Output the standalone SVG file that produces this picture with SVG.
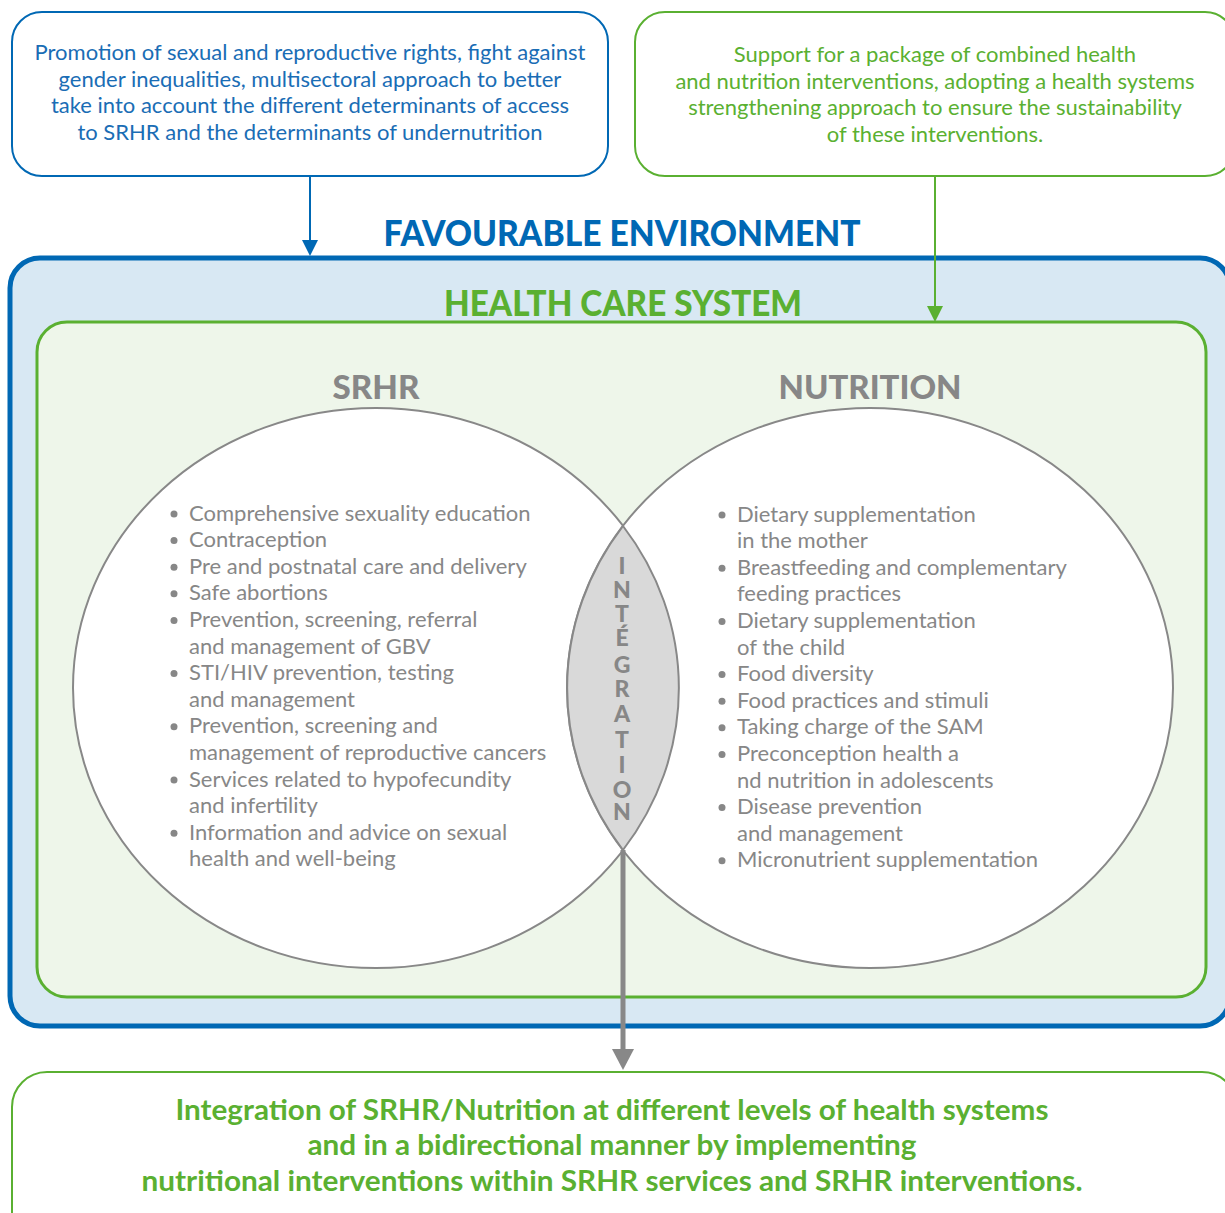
<svg xmlns="http://www.w3.org/2000/svg" width="1225" height="1213" viewBox="0 0 1225 1213">
<style>
.box{fill:#fff;stroke-width:2}
.bt{font-family:Lato,"Liberation Sans",sans-serif;font-size:22px;text-anchor:middle}
.li{font-family:Lato,"Liberation Sans",sans-serif;font-size:22px;fill:#878787}
.hd{font-family:Lato,"Liberation Sans",sans-serif;font-weight:900;text-anchor:middle}
.int{font-family:Lato,"Liberation Sans",sans-serif;font-weight:900;font-size:23px;fill:#878787;text-anchor:middle}
.dot{fill:#878787}
</style>
<rect width="1225" height="1213" fill="#fff"/>
<g id="favourable-environment">
<rect x="10" y="258" width="1220" height="768" rx="30" fill="#d8e8f3" stroke="#0068b4" stroke-width="5"/>
<text class="hd" x="622" y="246" font-size="36" fill="#0068b4" textLength="477" lengthAdjust="spacingAndGlyphs">FAVOURABLE ENVIRONMENT</text>
</g>
<g id="health-care-system">
<rect x="37" y="322" width="1169" height="675" rx="30" fill="#eef6ea" stroke="#5ab031" stroke-width="3"/>
<text class="hd" x="623" y="316" font-size="36" fill="#5ab031" textLength="358" lengthAdjust="spacingAndGlyphs">HEALTH CARE SYSTEM</text>
</g>
<g id="srhr">
<ellipse cx="376" cy="688" rx="303" ry="280" fill="#fff" stroke="#888" stroke-width="2"/>
<text class="hd" x="376" y="399" font-size="33" fill="#878787" textLength="87" lengthAdjust="spacingAndGlyphs">SRHR</text>
<g class="li">
<text x="189" y="520.5">Comprehensive sexuality education</text>
<text x="189" y="547.1">Contraception</text>
<text x="189" y="573.7">Pre and postnatal care and delivery</text>
<text x="189" y="600.3">Safe abortions</text>
<text x="189" y="626.9">Prevention, screening, referral</text>
<text x="189" y="653.5">and management of GBV</text>
<text x="189" y="680.1">STI/HIV prevention, testing</text>
<text x="189" y="706.7">and management</text>
<text x="189" y="733.3">Prevention, screening and</text>
<text x="189" y="759.9">management of reproductive cancers</text>
<text x="189" y="786.5">Services related to hypofecundity</text>
<text x="189" y="813.1">and infertility</text>
<text x="189" y="839.7">Information and advice on sexual</text>
<text x="189" y="866.3">health and well-being</text>
</g>
<g class="dot">
<circle cx="174" cy="514" r="3.5"/><circle cx="174" cy="540.6" r="3.5"/><circle cx="174" cy="567.2" r="3.5"/><circle cx="174" cy="593.8" r="3.5"/><circle cx="174" cy="620.4" r="3.5"/><circle cx="174" cy="673.6" r="3.5"/><circle cx="174" cy="726.8" r="3.5"/><circle cx="174" cy="780" r="3.5"/><circle cx="174" cy="833.2" r="3.5"/>
</g>
</g>
<g id="nutrition">
<ellipse cx="870" cy="688" rx="303" ry="280" fill="#fff" stroke="#888" stroke-width="2"/>
<text class="hd" x="870" y="399" font-size="33" fill="#878787" textLength="183" lengthAdjust="spacingAndGlyphs">NUTRITION</text>
<g class="li">
<text x="737" y="521.5">Dietary supplementation</text>
<text x="737" y="548.1">in the mother</text>
<text x="737" y="574.7">Breastfeeding and complementary</text>
<text x="737" y="601.3">feeding practices</text>
<text x="737" y="627.9">Dietary supplementation</text>
<text x="737" y="654.5">of the child</text>
<text x="737" y="681.1">Food diversity</text>
<text x="737" y="707.7">Food practices and stimuli</text>
<text x="737" y="734.3">Taking charge of the SAM</text>
<text x="737" y="760.9">Preconception health a</text>
<text x="737" y="787.5">nd nutrition in adolescents</text>
<text x="737" y="814.1">Disease prevention</text>
<text x="737" y="840.7">and management</text>
<text x="737" y="867.3">Micronutrient supplementation</text>
</g>
<g class="dot">
<circle cx="722" cy="515" r="3.5"/><circle cx="722" cy="568.2" r="3.5"/><circle cx="722" cy="621.4" r="3.5"/><circle cx="722" cy="674.6" r="3.5"/><circle cx="722" cy="701.2" r="3.5"/><circle cx="722" cy="727.8" r="3.5"/><circle cx="722" cy="754.4" r="3.5"/><circle cx="722" cy="807.6" r="3.5"/><circle cx="722" cy="860.8" r="3.5"/>
</g>
</g>
<g id="integration">
<path d="M623,526 A303,280 0 0,1 623,850 A303,280 0 0,1 623,526 Z" fill="#d9d9d9" stroke="#888" stroke-width="2"/>
<text class="int"><tspan x="622" y="574">I</tspan><tspan x="622" y="598">N</tspan><tspan x="622" y="622">T</tspan><tspan x="622" y="646">É</tspan><tspan x="622" y="673">G</tspan><tspan x="622" y="697">R</tspan><tspan x="622" y="722">A</tspan><tspan x="622" y="748">T</tspan><tspan x="622" y="773">I</tspan><tspan x="622" y="798">O</tspan><tspan x="622" y="820">N</tspan></text>
</g>
<g id="box-rights">
<rect class="box" x="12" y="12" width="596" height="164" rx="30" stroke="#0068b4"/>
<g class="bt" fill="#1a6db5">
<text x="310" y="60">Promotion of sexual and reproductive rights, fight against</text>
<text x="310" y="87">gender inequalities, multisectoral approach to better</text>
<text x="310" y="113">take into account the different determinants of access</text>
<text x="310" y="140">to SRHR and the determinants of undernutrition</text>
</g>
</g>
<g id="box-package">
<rect class="box" x="635" y="12" width="600" height="164" rx="30" stroke="#5ab031"/>
<g class="bt" fill="#5ab031">
<text x="935" y="62">Support for a package of combined health</text>
<text x="935" y="89">and nutrition interventions, adopting a health systems</text>
<text x="935" y="115">strengthening approach to ensure the sustainability</text>
<text x="935" y="142">of these interventions.</text>
</g>
</g>
<g id="box-integration">
<rect class="box" x="12" y="1072" width="1225" height="180" rx="35" stroke="#5ab031"/>
<g class="hd" font-size="28" fill="#5ab031">
<text x="612" y="1120" font-weight="700" textLength="873" lengthAdjust="spacingAndGlyphs">Integration of SRHR/Nutrition at different levels of health systems</text>
<text x="612" y="1155" font-weight="700" textLength="609" lengthAdjust="spacingAndGlyphs">and in a bidirectional manner by implementing</text>
<text x="612" y="1191" font-weight="700" textLength="941" lengthAdjust="spacingAndGlyphs">nutritional interventions within SRHR services and SRHR interventions.</text>
</g>
</g>
<g id="connectors">
<line x1="310" y1="176" x2="310" y2="242" stroke="#0068b4" stroke-width="2"/>
<polygon points="302,240 318,240 310,256" fill="#0068b4"/>
<line x1="935" y1="177" x2="935" y2="308" stroke="#5ab031" stroke-width="2"/>
<polygon points="927,306 943,306 935,322" fill="#5ab031"/>
<line x1="623" y1="850" x2="623" y2="1052" stroke="#888" stroke-width="5"/>
<polygon points="612,1049 634,1049 623,1070" fill="#888"/>
</g>
</svg>
